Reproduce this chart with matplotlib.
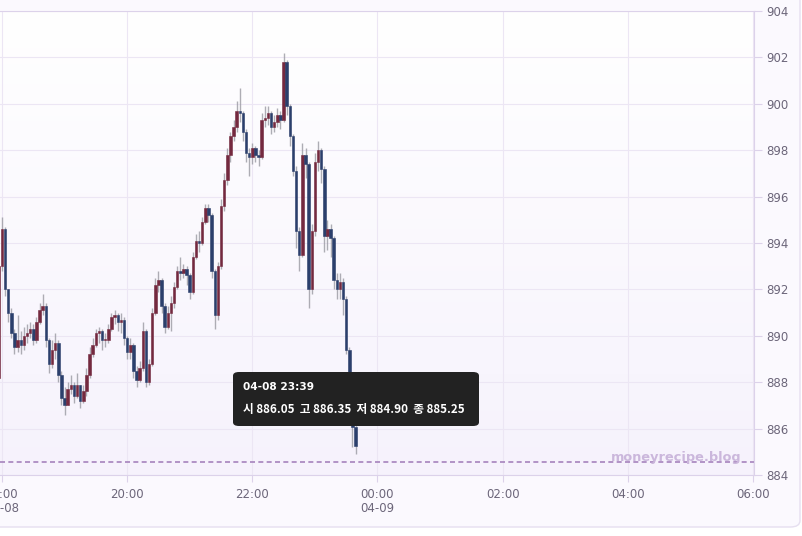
import numpy as np
import matplotlib
matplotlib.use("Agg")
import matplotlib.pyplot as plt
from matplotlib.patches import FancyBboxPatch, Rectangle

plt.rcParams['font.family'] = ['DejaVu Sans']

# 3-minute candles, minutes from 18:00 (first candle 17:57, last 23:39)
t = np.arange(-3, 342, 3)
first_open = 888.2
closes = [893.0, 894.6, 892.0, 891.0, 890.1, 889.5, 889.8, 889.6, 890.0, 890.1,
          890.3, 889.8, 890.6, 891.1, 891.3, 889.8, 888.8, 889.4, 889.7, 888.3,
          887.3, 887.0, 887.7, 887.9, 887.4, 887.9, 887.2, 887.6, 888.3, 889.2,
          889.6, 890.1, 890.2, 889.8, 889.8, 890.3, 890.8, 890.9, 890.6, 890.7,
          889.9, 889.3, 889.6, 888.5, 888.1, 888.6, 890.2, 888.0, 888.8, 891.0,
          892.2, 892.4, 891.3, 890.4, 891.0, 891.4, 892.1, 892.8, 892.7, 892.9,
          892.6, 891.9, 893.4, 894.1, 894.0, 894.9, 895.5, 895.2, 892.8, 890.9,
          893.0, 895.6, 896.7, 897.8, 898.6, 899.0, 899.7, 899.6, 898.8, 897.9,
          897.7, 898.1, 897.8, 897.7, 899.3, 899.4, 899.6, 899.0, 899.2, 899.5,
          899.3, 901.8, 899.9, 898.6, 897.1, 894.5, 893.5, 897.8, 897.4, 892.0,
          894.5, 897.5, 898.0, 897.2, 894.3, 894.6, 894.2, 892.4, 892.0, 892.3,
          891.6, 889.4, 887.0, 886.05, 885.25]
highs = [893.2, 895.1, 894.7, 892.0, 891.2, 890.3, 890.9, 890.2, 890.4, 890.5,
         890.6, 890.5, 890.8, 891.4, 891.8, 891.4, 889.9, 889.8, 890.1, 889.8,
         888.5, 887.8, 888.0, 888.3, 888.0, 888.4, 887.9, 887.9, 888.6, 889.5,
         889.9, 890.3, 890.4, 890.3, 890.1, 890.5, 891.0, 891.1, 891.0, 891.0,
         890.8, 890.0, 889.9, 889.7, 888.7, 888.9, 890.6, 890.3, 889.0, 891.2,
         892.5, 892.8, 892.5, 891.4, 891.3, 891.7, 892.3, 893.0, 893.4, 893.1,
         893.0, 892.7, 893.6, 894.4, 894.5, 895.1, 895.7, 895.7, 895.3, 892.9,
         893.2, 895.9, 897.0, 898.1, 898.8, 899.3, 900.1, 900.7, 899.7, 898.9,
         898.1, 898.3, 898.2, 898.0, 899.6, 899.9, 899.9, 899.7, 899.5, 899.8,
         899.7, 902.2, 901.9, 900.0, 898.7, 897.3, 894.7, 898.3, 898.1, 897.5,
         894.8, 897.9, 898.4, 898.1, 897.3, 895.0, 894.8, 894.3, 892.7, 892.7,
         892.5, 891.7, 889.5, 887.1, 886.35]
lows = [888.0, 892.8, 891.7, 890.6, 889.9, 889.2, 889.3, 889.2, 889.4, 889.7,
        889.9, 889.6, 889.7, 890.5, 890.9, 889.5, 888.4, 888.6, 889.0, 888.0,
        887.0, 886.6, 887.0, 887.5, 887.1, 887.3, 886.9, 887.1, 887.4, 888.2,
        889.1, 889.5, 889.7, 889.4, 889.5, 889.7, 890.2, 890.5, 890.2, 890.1,
        889.6, 889.0, 889.0, 888.2, 887.8, 888.0, 888.5, 887.8, 887.9, 888.7,
        890.9, 891.9, 891.0, 890.1, 890.3, 890.2, 891.2, 892.0, 892.4, 892.5,
        892.2, 891.6, 891.8, 893.3, 893.6, 893.9, 894.8, 894.9, 892.5, 890.3,
        890.7, 892.9, 895.4, 896.5, 897.5, 898.4, 898.8, 899.2, 898.4, 897.5,
        896.9, 897.4, 897.5, 897.3, 897.6, 899.0, 899.1, 898.7, 898.8, 899.0,
        898.9, 899.2, 899.5, 898.2, 896.9, 893.8, 892.8, 893.4, 896.8, 891.2,
        891.8, 894.3, 897.1, 896.6, 893.6, 893.7, 893.4, 892.0, 891.6, 891.6,
        890.9, 889.2, 886.8, 885.2, 884.90]
opens = [first_open] + closes[:-1]
low_line = 884.56

y_ticks = [884, 886, 888, 890, 892, 894, 896, 898, 900, 902, 904]
x_ticks = [0, 120, 240, 360, 480, 600, 720]
x_labels = ["18:00\n04-08", "20:00", "22:00", "00:00\n04-09", "02:00", "04:00", "06:00"]

up_col = '#74293f'
dn_col = '#2b3f6c'
grid_col = '#ece6f4'
edge_col = '#dcd2ea'
txt_col = '#6c667a'

fig = plt.figure(figsize=(8.03, 5.36), dpi=100)
fig.patch.set_facecolor('white')
card = FancyBboxPatch((-20 / 803, 9 / 536), 820 / 803, 560 / 536,
                      boxstyle="round,pad=0,rounding_size=0.012",
                      transform=fig.transFigure, facecolor='#fbf9fe',
                      edgecolor='#e6dff0', lw=1.0, zorder=-5)
fig.add_artist(card)

ax = fig.add_axes([0, 1 - 475 / 536, 754 / 803, 464 / 536])
ax.set_zorder(2)
ax.patch.set_alpha(0)


def axy(py):
    # pixel row of the figure -> axes fraction
    return 1 - (py - 11) / 464


# soft vertical gradient in the plot area
grad = np.linspace(0, 1, 256).reshape(-1, 1)
top = np.array([1.0, 1.0, 1.0])
bot = np.array([0.965, 0.95, 0.99])
img = top + (bot - top) * grad[:, :, None]
ax.imshow(img, extent=[0, 1, 0, 1], transform=ax.transAxes, aspect='auto', zorder=0)
ax.set_xlim(-1.9, 721)
ax.set_ylim(884, 904)

for y in y_ticks:
    ax.axhline(y, color=grid_col, lw=0.8, zorder=1)
for x in x_ticks:
    ax.axvline(x, color=grid_col, lw=0.8, zorder=1)

ax.axhline(low_line, color='#a683bd', lw=1.2, ls=(0, (3, 2)), zorder=2)

# candles
w = 2.4
for i in range(len(t)):
    o, c, h, l = opens[i], closes[i], highs[i], lows[i]
    col = up_col if c >= o else dn_col
    ax.vlines(t[i], l, h, color='#9a9aa2', lw=1.0, alpha=0.8, zorder=3)
    ax.add_patch(Rectangle((t[i] - w / 2, min(o, c)), w, max(abs(c - o), 0.05),
                           facecolor=col, edgecolor=col, lw=0.4, zorder=4))

ax.text(742 / 754, axy(457), "moneyrecipe.blog", transform=ax.transAxes,
        ha='right', va='center', fontsize=9.3, fontweight='bold', color='#cbb7dc', zorder=5)

# tooltip
ax.add_patch(FancyBboxPatch((233 / 754, axy(426)), 246 / 754, 54 / 464,
                            boxstyle="round,pad=0,rounding_size=0.008",
                            transform=ax.transAxes, facecolor='#222222',
                            edgecolor='none', zorder=6))
ax.text(243 / 754, axy(387), "04-08 23:39", transform=ax.transAxes,
        ha='left', va='center', fontsize=7.6, fontweight='bold', color='white', zorder=7)
ax.text(243 / 754, axy(410), "시 886.05  고 886.35  저 884.90  종 885.25",
        transform=ax.transAxes, ha='left', va='center', fontsize=8.4,
        fontweight='bold', color='white', family=['Noto Sans CJK KR', 'DejaVu Sans'], zorder=7)

ax.yaxis.tick_right()
ax.set_yticks(y_ticks)
ax.set_xticks(x_ticks)
ax.set_xticklabels(x_labels)
ax.tick_params(axis='y', colors=edge_col, labelcolor=txt_col, length=6, width=0.8,
               labelsize=8.5, pad=3)
ax.tick_params(axis='x', colors=edge_col, labelcolor=txt_col, length=5, width=0.8,
               labelsize=8.5, pad=4)
ax.spines['left'].set_visible(False)
for s in ['right', 'top', 'bottom']:
    ax.spines[s].set_color(edge_col)
    ax.spines[s].set_linewidth(0.8)

fig.savefig('out.png', dpi=100)
